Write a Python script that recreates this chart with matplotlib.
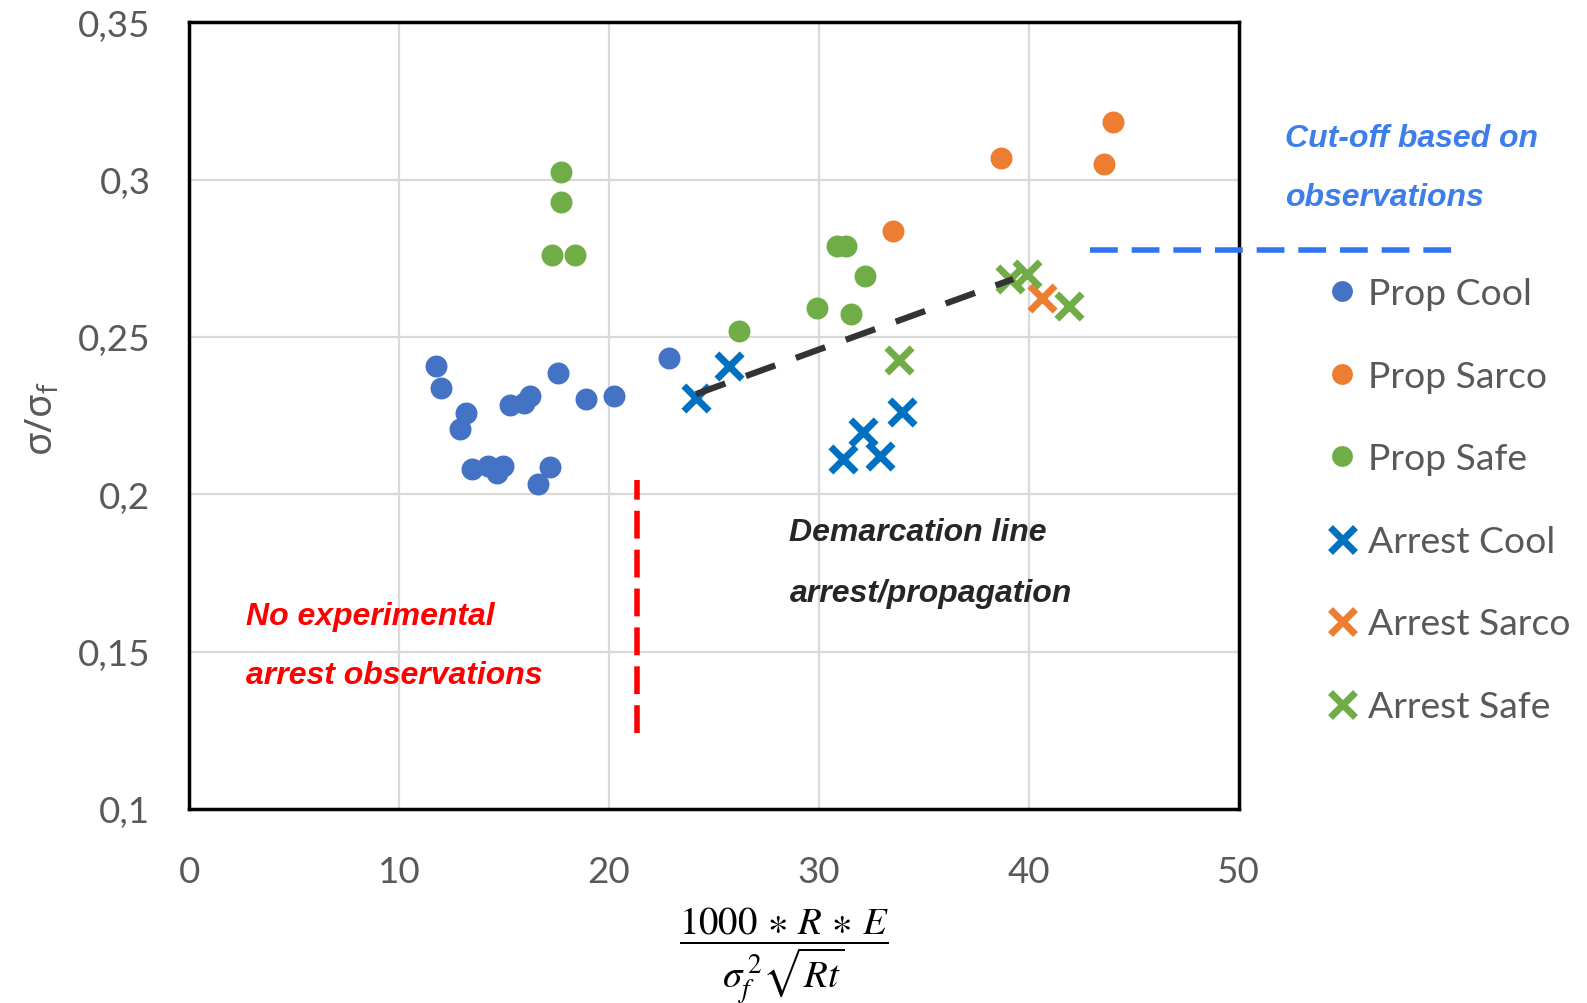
import matplotlib
matplotlib.use('Agg')
import matplotlib.pyplot as plt
from matplotlib.lines import Line2D
from matplotlib.ticker import FuncFormatter

# data
prop_cool_x = [11.74, 11.99, 13.2, 12.91, 13.45, 14.25, 14.64, 14.93, 15.29, 15.95,
               16.23, 17.55, 18.88, 20.22, 22.87, 17.17, 16.63]
prop_cool_y = [0.2407, 0.2339, 0.2258, 0.2207, 0.208, 0.2091, 0.2067, 0.2089, 0.2284, 0.229,
               0.2313, 0.2386, 0.2303, 0.2311, 0.2433, 0.2087, 0.2031]
prop_sarco_x = [33.51, 38.67, 43.99, 43.59]
prop_sarco_y = [0.2836, 0.3069, 0.3182, 0.305]
prop_safe_x = [17.71, 17.71, 17.29, 18.36, 26.19, 30.84, 31.29, 32.19, 29.92, 31.51]
prop_safe_y = [0.3023, 0.293, 0.2761, 0.2761, 0.2518, 0.279, 0.279, 0.2695, 0.2592, 0.2573]
arrest_cool_x = [24.14, 25.73, 33.97, 32.11, 31.16, 32.9]
arrest_cool_y = [0.2306, 0.2408, 0.226, 0.2197, 0.2112, 0.212]
arrest_sarco_x = [40.61]
arrest_sarco_y = [0.2624]
arrest_safe_x = [33.83, 39.1, 39.92, 41.92]
arrest_safe_y = [0.2427, 0.2684, 0.27, 0.2597]

demarcation_x = [24.14, 39.26]
demarcation_y = [0.2318, 0.2684]
no_arrest_x = [21.31, 21.31]
no_arrest_y = [0.1242, 0.2046]
cutoff_x = [42.9, 60.4]
cutoff_y = [0.2775, 0.2775]

x_ticks = [0, 10, 20, 30, 40, 50]
y_ticks = [0.1, 0.15, 0.2, 0.25, 0.3, 0.35]
labels = ['Prop Cool', 'Prop Sarco', 'Prop Safe', 'Arrest Cool', 'Arrest Sarco', 'Arrest Safe']

plt.rcParams['font.family'] = ['Lato', 'DejaVu Sans']
plt.rcParams['mathtext.fontset'] = 'stix'

S = 1.012  # reference preview -> full size


def fx(px):
    return px * S / 1587


def fy(py):
    return 1 - py * S / 1004


fig = plt.figure(figsize=(15.87, 10.04), dpi=100)
ax = fig.add_axes([0.1193, 0.1934, 0.6612, 0.7834])

ax.set_xlim(0, 50)
ax.set_ylim(0.1, 0.35)
ax.set_xticks(x_ticks)
ax.set_yticks(y_ticks)
ax.yaxis.set_major_formatter(FuncFormatter(lambda v, p: ('%g' % round(v, 3)).replace('.', ',')))
ax.tick_params(axis='both', length=0, labelsize=26.5, labelcolor='#595959')
ax.tick_params(axis='x', pad=33)
ax.tick_params(axis='y', pad=28)
ax.grid(True, color='#d9d9d9', linewidth=1.6)
ax.set_axisbelow(True)
for s in ax.spines.values():
    s.set_color('black')
    s.set_linewidth(2.5)

circ = dict(marker='o', s=250, linewidths=0, zorder=3)
ax.scatter(prop_cool_x, prop_cool_y, color='#4472C4', **circ)
ax.scatter(prop_sarco_x, prop_sarco_y, color='#ED7D31', **circ)
ax.scatter(prop_safe_x, prop_safe_y, color='#70AD47', **circ)

cross = dict(marker='x', s=330, linewidths=5, zorder=3)
ax.scatter(arrest_cool_x, arrest_cool_y, color='#0070C0', **cross)
ax.scatter(arrest_sarco_x, arrest_sarco_y, color='#ED7D31', **cross)
ax.scatter(arrest_safe_x, arrest_safe_y, color='#70AD47', **cross)

# annotation lines
ax.plot(demarcation_x, demarcation_y, color='#333333', linewidth=4.5,
        dashes=(5, 3.5), zorder=4)
ax.plot(no_arrest_x, no_arrest_y, color='#FF0000', linewidth=4, dashes=(5, 2), zorder=4)
ax.plot(cutoff_x, cutoff_y, color='#2F74F5', linewidth=4, dashes=(5, 2.5),
        clip_on=False, zorder=4)

txt = dict(fontsize=23, fontweight='bold', fontstyle='italic',
           family=['Liberation Sans', 'DejaVu Sans'], ha='left', va='center')
fig.text(fx(780), fy(527), 'Demarcation line', color='#262626', **txt)
fig.text(fx(780), fy(587), 'arrest/propagation', color='#262626', **txt)
fig.text(fx(243), fy(610), 'No experimental', color='#FF0000', **txt)
fig.text(fx(243), fy(668), 'arrest observations', color='#FF0000', **txt)
fig.text(fx(1270), fy(137), 'Cut-off based on', color='#3D7EEA', **txt)
fig.text(fx(1270), fy(196), 'observations', color='#3D7EEA', **txt)

# axis labels
fig.text(fx(42), fy(413), r'$\mathregular{σ/σ_f}$',
         rotation=90, fontsize=28, color='#595959', family=['Noto Sans', 'DejaVu Sans'],
         ha='center', va='center')
fig.text(fx(775), fy(945),
         r'$\dfrac{1000\,\ast\,R\,\ast\,E}{\sigma_f^{\,2}\sqrt{Rt}}$',
         fontsize=28, color='black', ha='center', va='center')

handles = [
    Line2D([], [], linestyle='none', marker='o', markersize=15, markeredgewidth=0, color='#4472C4'),
    Line2D([], [], linestyle='none', marker='o', markersize=15, markeredgewidth=0, color='#ED7D31'),
    Line2D([], [], linestyle='none', marker='o', markersize=15, markeredgewidth=0, color='#70AD47'),
    Line2D([], [], linestyle='none', marker='x', markersize=18, markeredgewidth=5, color='#0070C0'),
    Line2D([], [], linestyle='none', marker='x', markersize=18, markeredgewidth=5, color='#ED7D31'),
    Line2D([], [], linestyle='none', marker='x', markersize=18, markeredgewidth=5, color='#70AD47'),
]
fig.legend(handles, labels, loc='upper left', bbox_to_anchor=(fx(1311), fy(275)),
           frameon=False, fontsize=26.8, labelcolor='#595959', handlelength=0.8,
           handletextpad=0.3, labelspacing=1.33, borderpad=0, borderaxespad=0)

fig.savefig('out.png', dpi=100)
